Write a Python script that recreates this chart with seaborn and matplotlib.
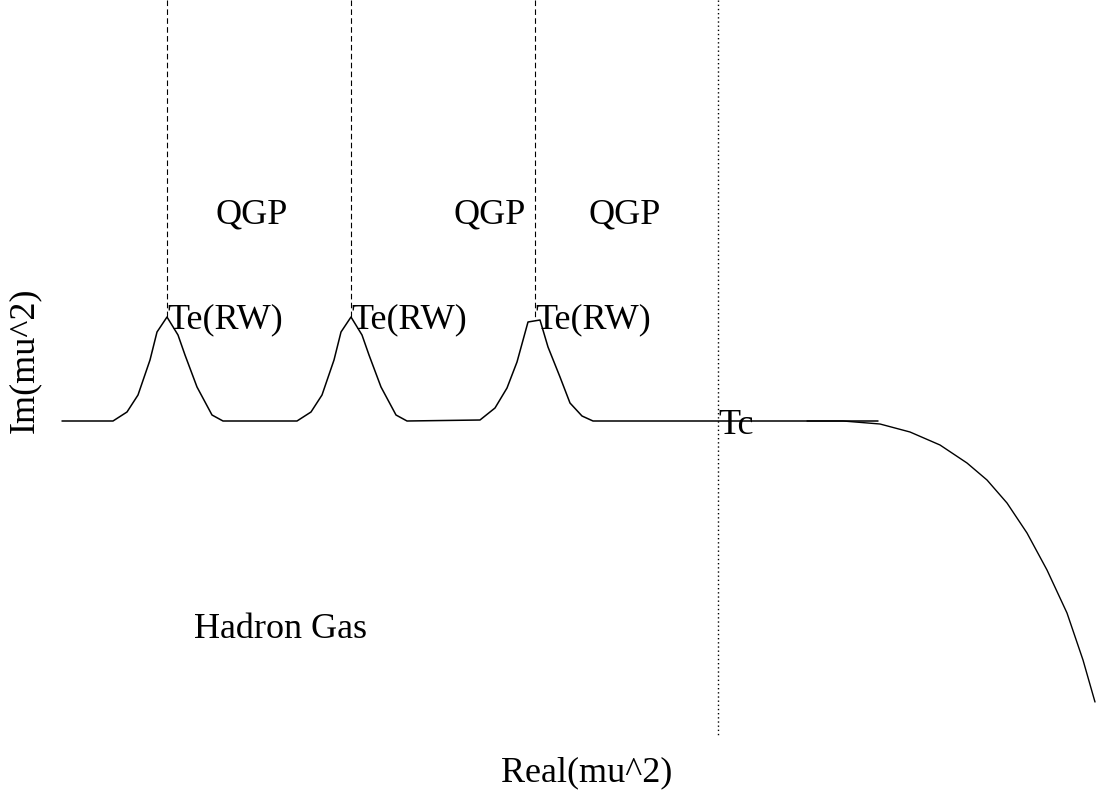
import matplotlib
matplotlib.use("Agg")
import matplotlib.pyplot as plt
import seaborn as sns
import pandas as pd

sns.set_style("white")
plt.rcParams['font.family'] = ['Liberation Serif', 'DejaVu Serif']

# --- data (schematic units, y grows downward) ---
# Roberge-Weiss curve with three peaks
rw_x = [62, 113, 127, 138, 150, 157, 167, 178, 185, 197, 212, 223,
        297, 311, 322, 334, 341, 351, 362, 369, 381, 396, 407,
        480, 495, 507, 517, 528, 540, 548, 560, 570, 582, 593, 878]
rw_y = [421, 421, 412, 395, 360, 332, 317, 335, 355, 387, 415, 421,
        421, 412, 395, 360, 332, 317, 335, 355, 387, 415, 421,
        420, 408, 388, 362, 322, 320, 347, 377, 403, 416, 421, 421]

# crossover line into real mu^2
cr_x = [807, 843, 880, 910, 940, 967, 987, 1007, 1027, 1047, 1067, 1083, 1095]
cr_y = [421, 421, 424, 432, 445, 463, 480, 503, 533, 570, 613, 660, 702]

# RW transition lines (dashed) and Tc line (dotted)
rw_lines = [167, 351, 535]
rw_top = 318
tc_x = 718
tc_bottom = 735

qgp_labels = ["QGP", "QGP", "QGP"]
qgp_x = [252, 490, 625]

fig = plt.figure(figsize=(10.96, 7.94), dpi=100)
ax = fig.add_axes([0, 0, 1, 1])

rw = pd.DataFrame({"x": rw_x, "y": rw_y})
cr = pd.DataFrame({"x": cr_x, "y": cr_y})
sns.lineplot(data=rw, x="x", y="y", sort=False, color="black", lw=1.1, ax=ax)
sns.lineplot(data=cr, x="x", y="y", sort=False, color="black", lw=1.0, ax=ax)

for xv in rw_lines:
    ax.plot([xv, xv], [0, rw_top], color="black", lw=0.8, ls=(0, (5, 3)))
ax.plot([tc_x, tc_x], [0, tc_bottom], color="black", lw=1.0, ls=(0, (1, 2)))

fs = 26
txt = dict(fontsize=fs, color="black", va="center")
for lab, xv in zip(qgp_labels, qgp_x):
    ax.text(xv, 215, lab, ha="center", **txt)
for xv in rw_lines:
    ax.text(xv, 320, "Te(RW)", ha="left", **txt)
ax.text(tc_x, 425, "Tc", ha="left", **txt)
ax.text(280, 630, "Hadron Gas", ha="center", **txt)
ax.text(587, 773, "Real(mu^2)", ha="center", **txt)
ax.text(25, 360, "Im(mu^2)", ha="center", rotation=90, **txt)

ax.set_xlim(0, 1096)
ax.set_ylim(794, 0)
ax.set_axis_off()

fig.savefig("out.png", dpi=100)
